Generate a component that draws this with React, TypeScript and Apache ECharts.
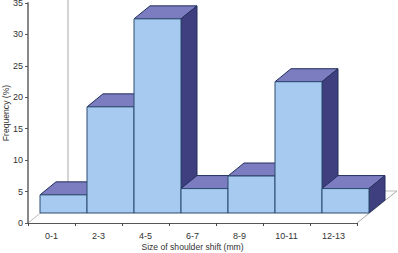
import React, { useEffect, useRef } from "react";
import * as echarts from "echarts";

const categories = ["0-1", "2-3", "4-5", "6-7", "8-9", "10-11", "12-13"];
const frequency = [4, 18, 32, 5, 7, 22, 5];
const xTitle = "Size of shoulder shift (mm)";
const yTitle = "Frequency (%)";

const FONT = "'Liberation Sans', Arial, sans-serif";
const DX = 16;
const DY = 13;

export default function App() {
  const ref = useRef<HTMLDivElement>(null);
  useEffect(() => {
    const chart = echarts.init(ref.current!, null, { renderer: "svg" });
    chart.setOption({
      animation: false,
      backgroundColor: "#ffffff",
      grid: { left: 28, right: 41, top: 3, bottom: 30, containLabel: false, outerBoundsMode: "none" },
      xAxis: {
        type: "category",
        data: categories,
        name: xTitle,
        nameLocation: "middle",
        nameGap: 19,
        nameMoveOverlap: false,
        nameTextStyle: { fontFamily: FONT, fontSize: 8.6, color: "#333" },
        axisLine: { lineStyle: { color: "#555", width: 1 } },
        axisTick: { show: true, length: 3, alignWithLabel: false, lineStyle: { color: "#444" } },
        axisLabel: { fontFamily: FONT, fontSize: 9, color: "#333", margin: 8, interval: 0 },
      },
      yAxis: {
        type: "value",
        min: 0,
        max: 35,
        interval: 5,
        name: yTitle,
        nameLocation: "middle",
        nameGap: 18,
        nameMoveOverlap: false,
        nameTextStyle: { fontFamily: FONT, fontSize: 8.6, color: "#333" },
        axisLine: { show: true, lineStyle: { color: "#888", width: 2 } },
        axisTick: { show: true, length: 3, lineStyle: { color: "#555" } },
        axisLabel: { fontFamily: FONT, fontSize: 9, color: "#333", margin: 5 },
        splitLine: { show: false },
      },
      graphic: [
        { type: "line", z: 0, shape: { x1: 68, y1: 0, x2: 68, y2: 191 }, style: { stroke: "#aaa", lineWidth: 1 } },
        { type: "line", z: 0, shape: { x1: 28, y1: 223, x2: 68, y2: 191 }, style: { stroke: "#bbb", lineWidth: 1 } },
        { type: "line", z: 0, shape: { x1: 68, y1: 191, x2: 397, y2: 191 }, style: { stroke: "#bbb", lineWidth: 1 } },
        { type: "line", z: 0, shape: { x1: 357, y1: 223, x2: 397, y2: 191 }, style: { stroke: "#aaa", lineWidth: 1 } },
      ],
      series: [
        {
          type: "custom",
          clip: false,
          z: 5,
          data: frequency.map((v, i) => [i, v]),
          encode: { x: 0, y: 1 },
          renderItem: (params: any, api: any) => {
            const i = api.value(0);
            const v = api.value(1);
            const band = api.size([1, 0])[0];
            const c = api.coord([i, v]);
            const base = api.coord([i, 0])[1] - 10;
            const top = c[1] - 3;
            const l = c[0] - band / 2 + 12;
            const r = l + band;
            const stroke = "#22305c";
            return {
              type: "group",
              children: [
                {
                  type: "polygon",
                  shape: { points: [[l, top], [l + DX, top - DY], [r + DX, top - DY], [r, top]] },
                  style: { fill: "#7c7cc0", stroke, lineWidth: 1 },
                },
                {
                  type: "polygon",
                  shape: { points: [[r, top], [r + DX, top - DY], [r + DX, base - DY], [r, base]] },
                  style: { fill: "#3f3f80", stroke, lineWidth: 1 },
                },
                {
                  type: "rect",
                  shape: { x: l, y: top, width: band, height: base - top },
                  style: { fill: "#a6caf0", stroke: "#2c4a6e", lineWidth: 1 },
                },
              ],
            };
          },
        },
      ],
    });
    return () => chart.dispose();
  }, []);
  return <div ref={ref} style={{ position: "fixed", left: 0, top: 0, width: 398, height: 253 }} />;
}
